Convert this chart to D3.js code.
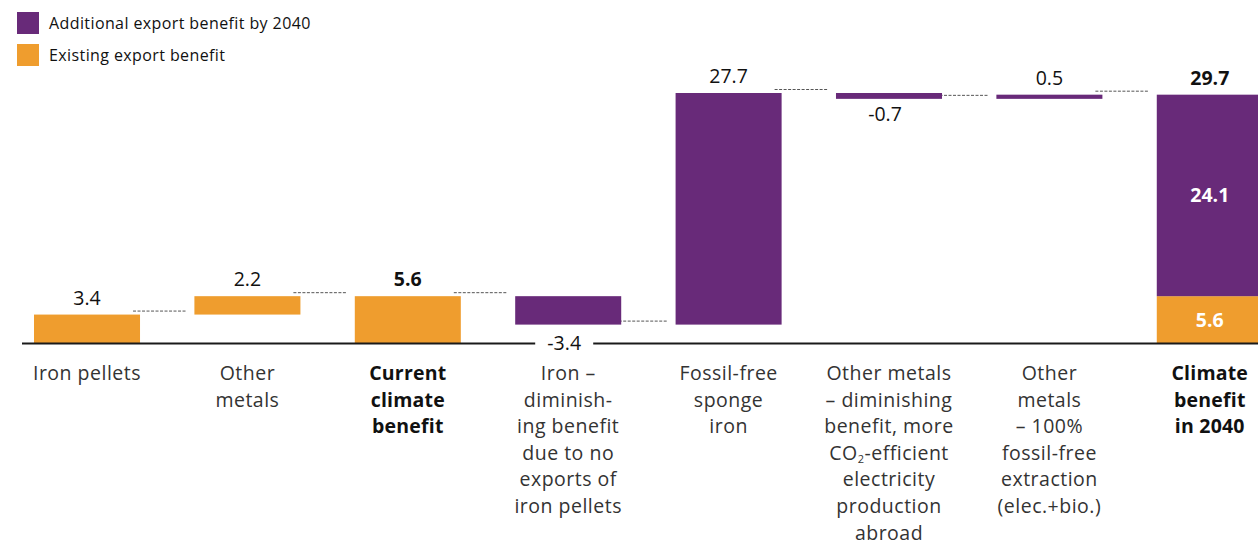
<!DOCTYPE html>
<html>
<head>
<meta charset="utf-8">
<script src="https://cdn.jsdelivr.net/npm/d3@7"></script>
<style>
  html, body { margin: 0; padding: 0; background: #fff; }
  svg { display: block; font-family: "Open Sans", "DejaVu Sans", sans-serif; }
</style>
</head>
<body>
<svg id="chart" width="1258" height="545"></svg>
<script>
// Waterfall steps (Mt CO2e climate benefit)
const categories = [
  "Iron pellets", "Other metals", "Current climate benefit",
  "Iron – diminishing benefit", "Fossil-free sponge iron",
  "Other metals – diminishing benefit", "Other metals – 100% fossil-free",
  "Climate benefit in 2040"
];
// Category label lines (the CO2 line uses a subscript)
const labelLines = [
  ["Iron pellets"],
  ["Other", "metals"],
  ["Current", "climate", "benefit"],
  ["Iron –", "diminish-", "ing benefit", "due to no", "exports of", "iron pellets"],
  ["Fossil-free", "sponge", "iron"],
  ["Other metals", "– diminishing", "benefit, more", "CO2-efficient", "electricity", "production", "abroad"],
  ["Other", "metals", "– 100%", "fossil-free", "extraction", "(elec.+bio.)"],
  ["Climate", "benefit", "in 2040"]
];
const boldLabels = [false, false, true, false, false, false, false, true];
// Step values; "total" steps are drawn from zero
const stepValues = [3.4, 2.2, 5.6, -3.4, 27.7, -0.7, 0.5, 29.7];
const stepKinds = ["delta", "delta", "total", "delta", "delta", "delta", "delta", "total"];
const stepSeries = ["existing", "existing", "existing", "additional", "additional", "additional", "additional", "stack"];
// Final stacked bar split
const finalExisting = 5.6;
const finalAdditional = 24.1;
const legendLabels = ["Additional export benefit by 2040", "Existing export benefit"];

const colors = { additional: "#682a79", existing: "#ef9d2e" };

const svg = d3.select("#chart");

const x = d3.scaleBand()
  .domain(categories)
  .range([34, 1262.8])
  .paddingInner(0.339)
  .paddingOuter(0);
const bw = x.bandwidth();

const y = d3.scaleLinear().domain([0, 29.9]).range([343, 93]);

// Build running levels
let level = 0;
const steps = categories.map((c, i) => {
  let start, end;
  if (stepKinds[i] === "total") { start = 0; end = stepValues[i]; level = stepValues[i]; }
  else { start = level; end = level + stepValues[i]; level = end; }
  return { cat: c, i, start, end, value: stepValues[i], kind: stepKinds[i], series: stepSeries[i] };
});

// Connector dashes between consecutive bars
const conn = svg.append("g");
for (let i = 0; i < steps.length - 1; i++) {
  const lv = steps[i].end;
  conn.append("line")
    .attr("x1", x(categories[i]) + bw - 7)
    .attr("x2", x(categories[i + 1]) - 8)
    .attr("y1", y(lv) - 3.5).attr("y2", y(lv) - 3.5)
    .attr("stroke", "#555").attr("stroke-width", 1)
    .attr("stroke-dasharray", "3,1.5");
}

// Bars
const bars = svg.append("g");
steps.forEach(s => {
  if (s.series === "stack") {
    bars.append("rect")
      .attr("x", x(s.cat)).attr("width", bw)
      .attr("y", y(finalExisting)).attr("height", y(0) - y(finalExisting))
      .attr("fill", colors.existing);
    bars.append("rect")
      .attr("x", x(s.cat)).attr("width", bw)
      .attr("y", y(finalExisting + finalAdditional))
      .attr("height", y(finalExisting) - y(finalExisting + finalAdditional))
      .attr("fill", colors.additional);
  } else {
    const lo = Math.min(s.start, s.end), hi = Math.max(s.start, s.end);
    bars.append("rect")
      .attr("x", x(s.cat)).attr("width", bw)
      .attr("y", y(hi)).attr("height", y(lo) - y(hi))
      .attr("fill", colors[s.series]);
  }
});

// Baseline
svg.append("line")
  .attr("x1", 22).attr("x2", 1258).attr("y1", y(0) + 0.5).attr("y2", y(0) + 0.5)
  .attr("stroke", "#1a1a1a").attr("stroke-width", 2);

// Gaps in the baseline behind labels that sit on it
const gaps = svg.append("g");

// Value labels
const vals = svg.append("g").attr("text-anchor", "middle").attr("font-size", 19.5).attr("fill", "#111");
const fmt = v => (v < 0 ? "-" : "") + Math.abs(v).toFixed(1);
steps.forEach(s => {
  const cx = x(s.cat) + bw / 2;
  const bold = s.kind === "total";
  if (s.value >= 0) {
    vals.append("text").attr("x", cx).attr("y", y(s.end) - 10)
      .attr("font-weight", bold ? 700 : 400).text(fmt(s.value));
  } else {
    const lo = Math.min(s.start, s.end);
    let ty = y(lo) + 22;
    if (y(0) - y(lo) < 30) {
      ty = y(0) + 7;
      gaps.append("rect").attr("x", cx - 33).attr("y", y(0) - 3).attr("width", 58).attr("height", 7).attr("fill", "#fff");
    }
    vals.append("text").attr("x", cx - 4).attr("y", ty).text(fmt(s.value));
  }
});
// Stack segment labels in the final bar
const last = categories[categories.length - 1];
vals.append("text").attr("x", x(last) + bw / 2).attr("y", y(finalExisting / 2) + 7)
  .attr("fill", "#fff").attr("font-weight", 700).text(fmt(finalExisting));
vals.append("text").attr("x", x(last) + bw / 2).attr("y", y(finalExisting + finalAdditional / 2) + 7)
  .attr("fill", "#fff").attr("font-weight", 700).text(fmt(finalAdditional));

// Category labels
const cats = svg.append("g").attr("text-anchor", "middle").attr("font-size", 19.5)
  .attr("letter-spacing", 0.5).attr("fill", "#333");
labelLines.forEach((lines, i) => {
  const t = cats.append("text")
    .attr("x", x(categories[i]) + bw / 2)
    .attr("y", 380)
    .attr("font-weight", boldLabels[i] ? 700 : 400)
    .attr("letter-spacing", boldLabels[i] ? 0.2 : 0.5)
    .attr("fill", boldLabels[i] ? "#111" : "#333");
  lines.forEach((ln, k) => {
    const ts = t.append("tspan").attr("x", x(categories[i]) + bw / 2).attr("y", 380 + k * 26.6);
    if (ln.startsWith("CO2")) {
      ts.append("tspan").text("CO");
      ts.append("tspan").attr("font-size", 11).attr("dy", 3.5).text("2");
      ts.append("tspan").attr("dy", -3.5).text(ln.slice(3));
    } else {
      ts.text(ln);
    }
  });
});

// Legend
const legend = svg.append("g");
const legendColors = [colors.additional, colors.existing];
legendLabels.forEach((l, i) => {
  legend.append("rect").attr("x", 17).attr("y", 12 + i * 32).attr("width", 22).attr("height", 22).attr("fill", legendColors[i]);
  legend.append("text").attr("x", 49).attr("y", 29 + i * 32).attr("font-size", 16)
    .attr("letter-spacing", 0.4).attr("fill", "#111").text(l);
});
</script>
</body>
</html>
